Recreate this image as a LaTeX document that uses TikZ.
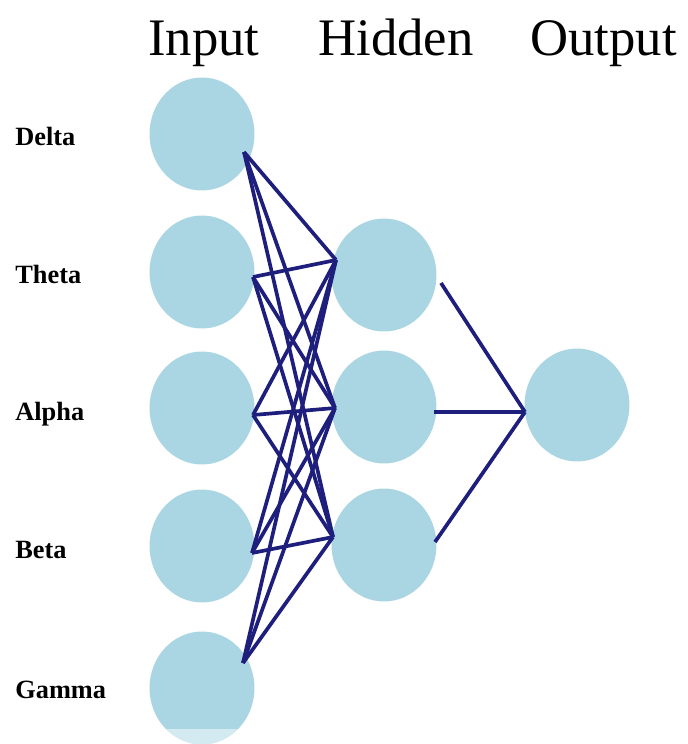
\documentclass[tikz,border=0pt]{standalone}
\usepackage{fontspec}
\setmainfont{Liberation Serif}
\usetikzlibrary{shapes.geometric}
\definecolor{neuron}{RGB}{170,213,227}
\definecolor{wire}{RGB}{30,30,125}
\tikzset{
  neuron/.style={ellipse, fill=neuron, minimum width=2.1cm, minimum height=2.26cm, inner sep=0pt},
  link/.style={wire, line width=2.1pt, line join=miter},
  layer/.style={anchor=base west, inner sep=0pt, font=\fontsize{30}{36}\selectfont},
  feature/.style={anchor=base west, inner sep=0pt, font=\bfseries\fontsize{15}{18}\selectfont}
}
\begin{document}
\begin{tikzpicture}[x=0.02cm, y=-0.02cm]
\useasboundingbox (0,0) rectangle (688,744);
% Titulos de capas
\node[layer] (tin) at (148,55) {Input};
\node[layer] (thid) at (318,55) {Hidden};
\node[layer] (tout) at (530,55) {Output};
% Capa de entrada
\node[neuron] (delta) at (202,134) {};
\node[neuron] (theta) at (202,272) {};
\node[neuron] (alpha) at (202,408) {};
\node[neuron] (beta) at (202,546) {};
\node[neuron] (gamma) at (202,688) {};
\node[feature] (ldelta) at (15,145) {Delta};
\node[feature] (ltheta) at (15,283) {Theta};
\node[feature] (lalpha) at (15,420) {Alpha};
\node[feature] (lbeta) at (15,558) {Beta};
\node[feature] (lgamma) at (15,698) {Gamma};
% Capa oculta
\node[neuron] (h1) at (384,275) {};
\node[neuron] (h2) at (384,407) {};
\node[neuron] (h3) at (384,545) {};
% Salida
\node[neuron] (out) at (577,405) {};
% Puntos de conexion
\coordinate (pd) at (244,152);
\coordinate (pt) at (253,277);
\coordinate (pa) at (253,415);
\coordinate (pb) at (252,553);
\coordinate (pg) at (243,663);
\coordinate (ph1) at (336,260);
\coordinate (ph2) at (335,408);
\coordinate (ph3) at (333,537);
\coordinate (qh1) at (441,283);
\coordinate (qh2) at (434,412);
\coordinate (qh3) at (435,542);
\coordinate (po) at (525,412);
% Entrada -> oculta
\foreach \i in {pd,pt,pa,pb,pg}
  \foreach \j in {ph1,ph2,ph3}
    \draw[link] (\i) -- (\j);
% Oculta -> salida
\foreach \j in {qh1,qh2,qh3}
  \draw[link] (\j) -- (po);
% Franja clara abajo
\begin{scope}
  \clip (gamma.center) ellipse [x radius=1.05cm, y radius=1.13cm];
  \fill[white, opacity=0.5] (140,729) rectangle (265,744);
\end{scope}
\end{tikzpicture}
\end{document}
